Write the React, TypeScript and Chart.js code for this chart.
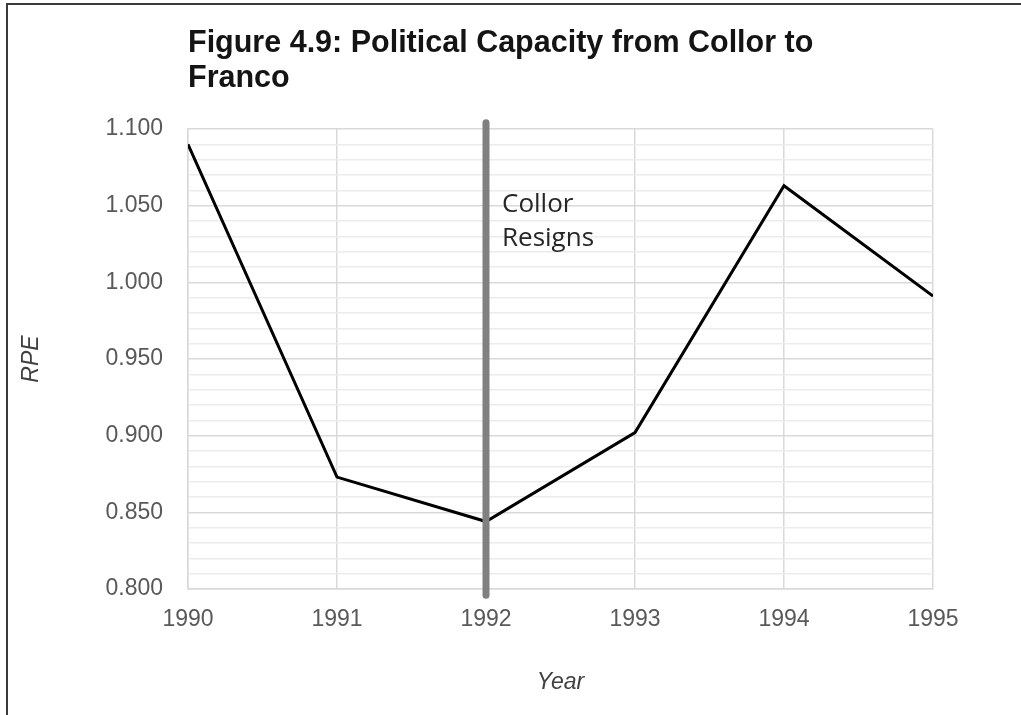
import { useEffect, useRef } from 'react';
import { Chart, registerables } from 'chart.js';

Chart.register(...registerables);

const years = [1990, 1991, 1992, 1993, 1994, 1995];
const rpe = [1.09, 0.873, 0.844, 0.902, 1.063, 0.991];

// grey marker for Collor's resignation
const resignYear = 1992;
const resignSpan = [1.104, 0.796];
const resignLabel = ['Collor', 'Resigns'];

const titleLines = ['Figure 4.9: Political Capacity from Collor to', 'Franco'];

const tickFont = { family: '"Liberation Sans", Arial, sans-serif', size: 23 };

const overlay = {
  id: 'overlay',
  afterDraw(chart: any) {
    const { ctx, chartArea, scales } = chart;
    ctx.save();
    // title, left-aligned with the plot
    ctx.fillStyle = '#141414';
    ctx.font = 'bold 30.5px "Liberation Sans", Arial, sans-serif';
    ctx.textAlign = 'left';
    ctx.textBaseline = 'middle';
    titleLines.forEach((line, i) => ctx.fillText(line, chartArea.left, 44 + i * 35));

    // annotation beside the marker
    const x = scales.x.getPixelForValue(resignYear) + 16;
    const y = scales.y.getPixelForValue(1.05) + 6;
    ctx.fillStyle = '#262626';
    ctx.font = '26px "Open Sans", "Noto Sans", sans-serif';
    ctx.textBaseline = 'alphabetic';
    resignLabel.forEach((line, i) => ctx.fillText(line, x, y + i * 34));
    ctx.restore();
  },
};

export default function App() {
  const canvasRef = useRef<HTMLCanvasElement>(null);
  const chartRef = useRef<Chart | null>(null);

  useEffect(() => {
    if (!canvasRef.current) return;
    chartRef.current?.destroy();

    chartRef.current = new Chart(canvasRef.current, {
      type: 'line',
      data: {
        datasets: [
          {
            data: resignSpan.map((y) => ({ x: resignYear, y })),
            borderColor: '#808080',
            borderWidth: 7,
            borderCapStyle: 'round',
            pointRadius: 0,
            clip: false,
            order: 0,
          },
          {
            data: years.map((x, i) => ({ x, y: rpe[i] })),
            borderColor: '#000',
            borderWidth: 3,
            pointRadius: 0,
            tension: 0,
            order: 1,
          },
        ],
      },
      options: {
        responsive: true, maintainAspectRatio: false, animation: false,
        layout: { padding: { left: 10, top: 129, right: 88, bottom: 0 } },
        plugins: { legend: { display: false }, tooltip: { enabled: false } },
        scales: {
          x: {
            type: 'linear', min: 1990, max: 1995,
            afterFit: (s: any) => { s.height = 126; },
            ticks: { stepSize: 1, padding: 17, color: '#595959', font: tickFont, callback: (v: any) => String(v) },
            grid: { color: '#d9d9d9', drawTicks: false, lineWidth: 1.5 },
            border: { color: '#d9d9d9', width: 1.5 },
            title: { display: true, text: 'Year', color: '#404040', font: { ...tickFont, style: 'italic' }, padding: { top: 0, bottom: 19 } },
          },
          y: {
            min: 0.8, max: 1.1,
            afterFit: (s: any) => { s.width = 178; },
            ticks: {
              stepSize: 0.01, autoSkip: false, padding: 25, color: '#595959', font: tickFont,
              callback: (v: any) => (Math.round(v * 1000) % 50 === 0 ? Number(v).toFixed(3) : ''),
            },
            grid: {
              drawTicks: false, lineWidth: 1.5,
              color: (c: any) => (Math.round(c.tick.value * 1000) % 50 === 0 ? '#d9d9d9' : '#ececec'),
            },
            border: { color: '#d9d9d9', width: 1.5 },
            title: { display: true, text: 'RPE', color: '#404040', font: { ...tickFont, style: 'italic' }, padding: { top: 8, bottom: 0 } },
          },
        },
      },
      plugins: [overlay],
    });

    return () => { chartRef.current?.destroy(); };
  }, []);

  return (
    <div style={{ position: 'fixed', left: 0, top: 0, width: 1021, height: 715, overflow: 'hidden', background: '#fff' }}>
      <div style={{ position: 'absolute', left: 6, top: 3, width: 1100, height: 800, border: '2px solid #3a3a3a' }} />
      <div style={{ position: 'absolute', left: 0, top: 0, width: 1021, height: 715 }}>
        <canvas ref={canvasRef} />
      </div>
    </div>
  );
}
